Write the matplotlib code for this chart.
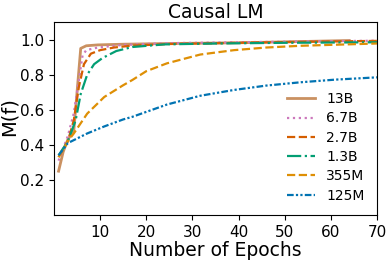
import matplotlib.pyplot as plt

# epochs and M(f) values per model size
ep_13b = [1, 2, 3, 4.3, 5.8, 7, 9.5, 15, 25, 40, 55, 64]
mf_13b = [0.25, 0.36, 0.43, 0.48, 0.95, 0.965, 0.97, 0.974, 0.978, 0.982, 0.99, 0.995]

ep_6_7b = [1, 3, 4.3, 5.4, 6.2, 7, 9.5, 15, 25, 40, 55, 70]
mf_6_7b = [0.31, 0.45, 0.58, 0.77, 0.91, 0.94, 0.955, 0.97, 0.98, 0.985, 0.99, 0.994]

ep_2_7b = [1, 3, 4.3, 5.4, 6.5, 8, 10, 13, 17, 25, 40, 55, 70]
mf_2_7b = [0.33, 0.42, 0.54, 0.73, 0.86, 0.92, 0.94, 0.955, 0.966, 0.975, 0.982, 0.988, 0.993]

ep_1_3b = [1, 3, 4.7, 5.8, 7.2, 8.7, 10.5, 13.5, 17, 24, 35, 50, 70]
mf_1_3b = [0.34, 0.42, 0.54, 0.69, 0.8, 0.86, 0.895, 0.935, 0.958, 0.973, 0.978, 0.982, 0.985]

ep_355m = [1, 3, 4.3, 7.2, 10.9, 15, 17, 20, 24.5, 31.7, 39, 46, 53.5, 61, 70]
mf_355m = [0.33, 0.42, 0.465, 0.578, 0.673, 0.74, 0.77, 0.82, 0.865, 0.915, 0.94, 0.955, 0.965, 0.971, 0.978]

ep_125m = [1, 3, 7.2, 10.9, 15, 17, 24.5, 31.7, 39, 46, 53.5, 61, 70]
mf_125m = [0.34, 0.41, 0.465, 0.505, 0.545, 0.56, 0.63, 0.68, 0.713, 0.738, 0.757, 0.772, 0.785]

series = [
    ("13B", ep_13b, mf_13b, "#ca9161", "-", 2.0),
    ("6.7B", ep_6_7b, mf_6_7b, "#cc78bc", ":", 1.6),
    ("2.7B", ep_2_7b, mf_2_7b, "#d55e00", "--", 1.6),
    ("1.3B", ep_1_3b, mf_1_3b, "#029e73", "-.", 1.6),
    ("355M", ep_355m, mf_355m, "#de8f05", "--", 1.6),
    ("125M", ep_125m, mf_125m, "#0173b2", (0, (3, 1, 1, 1, 1, 1)), 1.6),
]

fig = plt.figure(figsize=(3.91, 2.6), dpi=100)
ax = fig.add_axes([0.138, 0.173, 0.826, 0.742])

for name, ep, mf, col, ls, lw in series:
    ax.plot(ep, mf, color=col, linestyle=ls, linewidth=lw, label=name)

ax.set_xlim(0, 70)
ax.set_ylim(0.0, 1.1)
ax.set_xticks([10, 20, 30, 40, 50, 60, 70])
ax.set_yticks([0.2, 0.4, 0.6, 0.8, 1.0])
ax.tick_params(labelsize=11)
ax.set_xlabel("Number of Epochs", fontsize=13.5, labelpad=1)
ax.set_ylabel("M(f)", fontsize=14)
ax.yaxis.set_label_coords(-0.11, 0.51)
ax.set_title("Causal LM", fontsize=13.5, pad=3)
ax.legend(loc="lower right", frameon=False, fontsize=10, labelspacing=0.38,
          handlelength=2.0)

fig.savefig("out.png", dpi=100)
